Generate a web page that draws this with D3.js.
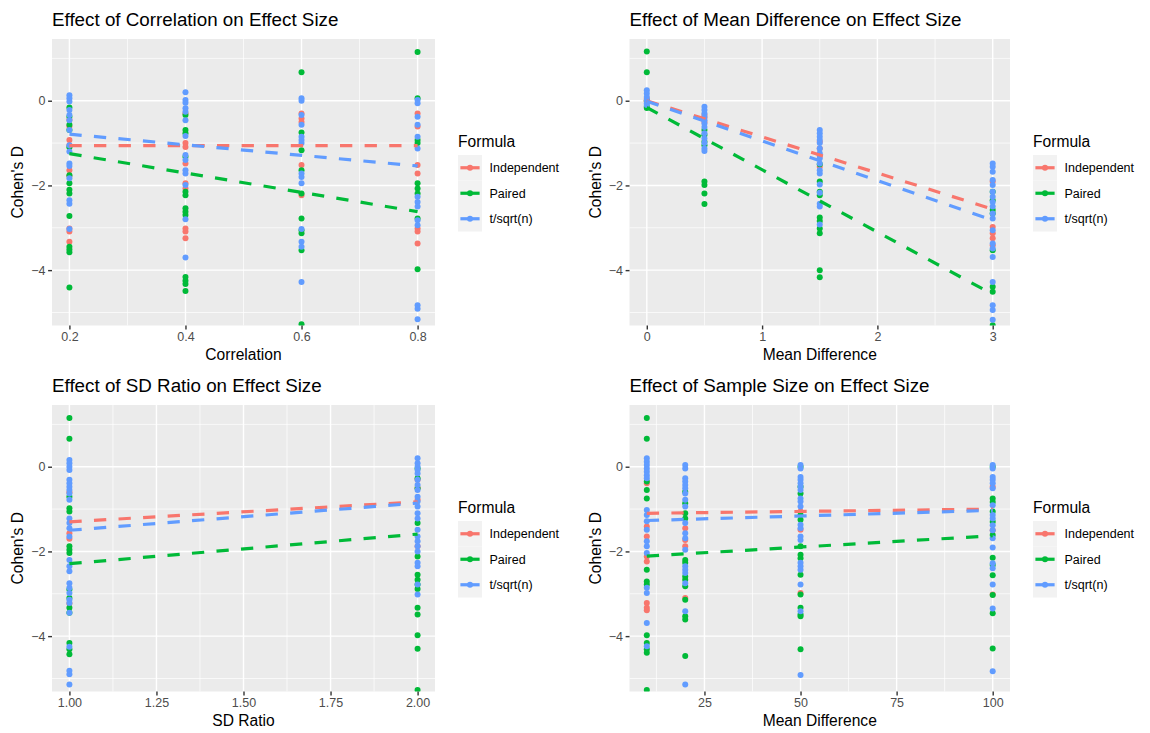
<!DOCTYPE html>
<html><head><meta charset="utf-8">
<script src="https://cdn.jsdelivr.net/npm/d3@7"></script>
<style>
body{margin:0;background:#fff}
text{font-family:"Liberation Sans",Arial,Helvetica,sans-serif}
</style>
</head><body>
<svg id="chart" width="1150" height="733"></svg>
<script>
// ---------- shared ----------
const formulas = ["Independent", "Paired", "t/sqrt(n)"];
const formulaColors = ["#F8766D", "#00BA38", "#619CFF"];
const yLabel = "Cohen's D";
const yMajorTicks = [-4, -2, 0];
const yMinorTicks = [-5, -3, -1, 1];
const yLimits = [-5.3075, 1.4575];

// ---------- panel 1: correlation ----------
const corrX = [0.2, 0.4, 0.6, 0.8];
const corrIndependent = [
  [-0.45, -0.6, -0.93, -1.05, -1.64, -1.78, -3.02, -3.09, -3.33],
  [-0.3, -1.0, -1.09, -1.48, -1.95, -2.07, -3.02, -3.09, -3.25],
  [-0.3, -0.42, -0.5, -1.52, -2.23],
  [-0.3, -0.61, -1.52, -1.72, -3.02, -3.09, -3.37]
];
const corrPaired = [
  [-0.16, -0.38, -0.57, -0.69, -1.1, -1.76, -1.95, -2.1, -2.19, -2.72, -3.45, -3.51, -3.58, -4.41],
  [-0.34, -0.69, -0.77, -1.32, -2.15, -2.23, -2.54, -2.62, -2.7, -4.16, -4.25, -4.33, -4.49],
  [0.67, -0.75, -1.17, -1.64, -2.19, -2.78, -3.06, -3.13, -3.53, -5.28],
  [1.15, 0.06, -0.93, -1.0, -1.95, -2.07, -2.19, -2.78, -3.98]
];
const corrTsqrt = [
  [0.13, 0.06, -0.02, -0.22, -0.34, -0.46, -0.69, -1.05, -1.2, -1.48, -1.54, -1.83, -2.35, -2.43, -3.03],
  [0.2, 0.02, -0.05, -0.18, -0.26, -0.46, -0.83, -1.28, -1.4, -1.64, -1.72, -1.99, -2.8, -3.7],
  [0.06, 0, -0.34, -0.57, -0.85, -0.93, -1.0, -1.72, -1.8, -1.95, -3.03, -3.33, -3.45, -4.28],
  [0.02, -0.06, -0.38, -0.57, -0.85, -1.13, -2.27, -2.39, -2.5, -2.82, -2.94, -4.83, -4.91, -5.16]
];
const corrFit = [[-1.06, -1.06], [-1.25, -2.62], [-0.79, -1.54]]; // y at min x, max x
const corrTicks = [0.2, 0.4, 0.6, 0.8];

// ---------- panel 2: mean difference ----------
const meanX = [0, 0.5, 1.5, 3];
const meanIndependent = [
  [0.05, -0.02, 0.0],
  [-0.34, -0.4, -0.5],
  [-0.97, -1.13, -1.3, -1.56],
  [-1.91, -2.98, -3.13, -3.25, -3.41]
];
const meanPaired = [
  [1.16, 0.67, 0.0, -0.14, -0.17],
  [-0.69, -0.81, -0.97, -1.05, -1.91, -1.99, -2.19, -2.44],
  [-1.5, -1.91, -2.15, -2.23, -2.76, -2.84, -3.02, -3.13, -4.0, -4.17],
  [-2.15, -2.35, -2.58, -2.66, -3.53, -4.39, -4.51, -5.3]
];
const meanTsqrt = [
  [0.25, 0.17, 0.09, 0.02, -0.06, -0.1],
  [-0.14, -0.22, -0.3, -0.38, -0.46, -0.54, -0.62, -0.77, -0.89, -1.0, -1.13, -1.19],
  [-0.69, -0.77, -0.85, -0.93, -1.0, -1.13, -1.24, -1.36, -1.48, -1.64, -1.72, -1.98, -2.17, -2.43, -2.5, -2.92],
  [-1.48, -1.56, -1.68, -1.87, -1.99, -2.15, -2.27, -2.39, -2.5, -2.66, -2.78, -3.06, -3.37, -3.49, -3.69, -4.28, -4.83, -4.94, -5.17]
];
const meanFit = [[0.0, -2.56], [-0.16, -4.57], [-0.01, -2.82]];
const meanTicks = [0, 1, 2, 3];

// ---------- panel 3: SD ratio ----------
const sdX = [1.0, 2.0];
const sdIndependent = [
  [-0.6, -1.57, -1.7, -3.23],
  [-0.31, -0.5, -0.78, -1.88]
];
const sdPaired = [
  [1.15, 0.66, -0.71, -0.98, -1.06, -1.88, -1.96, -2.04, -2.9, -3.1, -3.33, -3.45, -4.16, -4.31, -4.43],
  [-0.04, -0.27, -0.51, -1.33, -2.12, -2.55, -2.67, -2.78, -2.89, -3.33, -3.49, -3.98, -4.3, -5.27]
];
const sdTsqrt = [
  [0.16, 0.08, 0, -0.08, -0.31, -0.39, -0.47, -0.55, -0.63, -0.78, -1.22, -1.33, -1.45, -1.65, -2.2, -2.35, -2.47, -2.75, -2.86, -2.98, -3.14, -3.22, -3.45, -4.25, -4.82, -4.9, -5.14],
  [0.2, 0.08, 0, -0.08, -0.16, -0.31, -0.43, -0.55, -0.71, -0.82, -0.94, -1.1, -1.22, -1.49, -1.65, -1.76, -1.88, -2.0, -2.27, -2.35, -2.78, -3.02]
];
const sdFit = [[-1.30, -0.83], [-2.29, -1.59], [-1.50, -0.86]];
const sdTicks = [1.0, 1.25, 1.5, 1.75, 2.0];

// ---------- panel 4: sample size ----------
const nX = [10, 20, 50, 100];
const nIndependent = [
  [-0.39, -1.41, -1.65, -2.12, -2.24, -3.22, -3.33, -3.39],
  [-1.45, -1.73, -1.88, -3.1],
  [-1.06, -1.49, -2.98],
  [-0.47, -1.5, -3.02]
];
const nPaired = [
  [1.15, 0.66, -0.35, -0.55, -0.75, -2.43, -2.71, -2.78, -3.98, -4.16, -4.31, -4.39, -5.27],
  [-0.59, -0.86, -1.1, -1.22, -2.2, -2.27, -2.59, -2.67, -2.82, -3.14, -3.53, -3.61, -4.47],
  [0.0, -0.47, -0.63, -1.14, -1.25, -1.88, -2.08, -2.16, -2.55, -3.02, -3.33, -3.49, -3.53, -4.31],
  [0.0, -0.75, -0.83, -1.06, -1.3, -1.61, -2.15, -2.32, -2.56, -3.03, -3.46, -4.29]
];
const nTsqrt = [
  [0.2, 0.12, 0.04, -0.04, -0.12, -0.2, -0.27, -1.02, -1.14, -1.29, -1.49, -1.76, -1.88, -2.04, -2.86, -2.98, -3.69, -4.24],
  [0.04, -0.04, -0.27, -0.35, -0.43, -0.51, -0.63, -0.78, -0.94, -1.33, -1.57, -1.69, -1.96, -2.35, -2.43, -2.51, -2.75, -3.41, -5.14],
  [0.04, -0.04, -0.24, -0.31, -0.39, -0.47, -0.55, -0.75, -0.82, -0.94, -1.37, -1.45, -1.65, -1.73, -2.27, -2.35, -2.43, -2.78, -3.41, -4.92],
  [0.04, -0.04, -0.24, -0.31, -0.39, -0.51, -0.91, -1.14, -1.22, -1.38, -1.5, -1.69, -1.91, -2.28, -2.4, -2.78, -3.35, -4.83]
];
const nFit = [[-1.10, -1.00], [-2.11, -1.63], [-1.27, -1.03]];
const nTicks = [25, 50, 75, 100];

// ---------- panel table ----------
const panels = [
  {title: "Effect of Correlation on Effect Size", xLabel: "Correlation", xs: corrX,
   series: [corrIndependent, corrPaired, corrTsqrt], fit: corrFit, ticks: corrTicks,
   fmt: d3.format(".1f"), left: 52, right: 435, top: 39, bottom: 325.5},
  {title: "Effect of Mean Difference on Effect Size", xLabel: "Mean Difference", xs: meanX,
   series: [meanIndependent, meanPaired, meanTsqrt], fit: meanFit, ticks: meanTicks,
   fmt: d3.format("d"), left: 629.5, right: 1010, top: 39, bottom: 325.5},
  {title: "Effect of SD Ratio on Effect Size", xLabel: "SD Ratio", xs: sdX,
   series: [sdIndependent, sdPaired, sdTsqrt], fit: sdFit, ticks: sdTicks,
   fmt: d3.format(".2f"), left: 52, right: 435, top: 405, bottom: 691.5},
  {title: "Effect of Sample Size on Effect Size", xLabel: "Mean Difference", xs: nX,
   series: [nIndependent, nPaired, nTsqrt], fit: nFit, ticks: nTicks,
   fmt: d3.format("d"), left: 629.5, right: 1010, top: 405, bottom: 691.5}
];

const svg = d3.select("#chart");
const minusFmt = d => (d < 0 ? "\u2212" + Math.abs(d) : String(d));

panels.forEach((p, pi) => {
  const xmin = d3.min(p.xs), xmax = d3.max(p.xs);
  const pad = (xmax - xmin) * 0.05;
  const x = d3.scaleLinear().domain([xmin - pad, xmax + pad]).range([p.left, p.right]);
  const y = d3.scaleLinear().domain(yLimits).range([p.bottom, p.top]);
  const g = svg.append("g");

  // background
  g.append("rect").attr("x", p.left).attr("y", p.top)
    .attr("width", p.right - p.left).attr("height", p.bottom - p.top).attr("fill", "#EBEBEB");

  // minor x gridlines (midpoints between major ticks, within range)
  const tks = p.ticks;
  const step = tks[1] - tks[0];
  const minorX = [];
  for (let v = tks[0] - step / 2; v <= tks[tks.length - 1] + step / 2 + 1e-9; v += step) {
    if (v >= x.domain()[0] && v <= x.domain()[1]) minorX.push(v);
  }
  g.selectAll(".mx").data(minorX).join("line")
    .attr("x1", d => x(d)).attr("x2", d => x(d)).attr("y1", p.top).attr("y2", p.bottom)
    .attr("stroke", "#fff").attr("stroke-width", 0.7);
  g.selectAll(".my").data(yMinorTicks).join("line")
    .attr("x1", p.left).attr("x2", p.right).attr("y1", d => y(d)).attr("y2", d => y(d))
    .attr("stroke", "#fff").attr("stroke-width", 0.7);
  g.selectAll(".Mx").data(tks).join("line")
    .attr("x1", d => x(d)).attr("x2", d => x(d)).attr("y1", p.top).attr("y2", p.bottom)
    .attr("stroke", "#fff").attr("stroke-width", 1.4);
  g.selectAll(".My").data(yMajorTicks).join("line")
    .attr("x1", p.left).attr("x2", p.right).attr("y1", d => y(d)).attr("y2", d => y(d))
    .attr("stroke", "#fff").attr("stroke-width", 1.4);

  // clip
  const cid = "clip" + pi;
  svg.append("clipPath").attr("id", cid).append("rect")
    .attr("x", p.left).attr("y", p.top).attr("width", p.right - p.left).attr("height", p.bottom - p.top);
  const plot = g.append("g").attr("clip-path", `url(#${cid})`);

  // points
  p.series.forEach((ser, fi) => {
    const pts = [];
    ser.forEach((vals, xi) => vals.forEach(v => pts.push({x: p.xs[xi], y: v})));
    plot.append("g").selectAll("circle").data(pts).join("circle")
      .attr("cx", d => x(d.x)).attr("cy", d => y(d.y)).attr("r", 3)
      .attr("fill", formulaColors[fi]);
  });
  // fitted dashed lines
  p.fit.forEach((f, fi) => {
    plot.append("line")
      .attr("x1", x(xmin)).attr("y1", y(f[0])).attr("x2", x(xmax)).attr("y2", y(f[1]))
      .attr("stroke", formulaColors[fi]).attr("stroke-width", 3.2)
      .attr("stroke-dasharray", "12.3,12.3");
  });

  // axes
  const xAxis = d3.axisBottom(x).tickValues(tks).tickFormat(p.fmt).tickSize(3.9).tickPadding(2.6);
  const gx = g.append("g").attr("transform", `translate(0,${p.bottom})`).call(xAxis);
  const yAxis = d3.axisLeft(y).tickValues(yMajorTicks).tickFormat(minusFmt).tickSize(3.9).tickPadding(2.6);
  const gy = g.append("g").attr("transform", `translate(${p.left},0)`).call(yAxis);
  [gx, gy].forEach(a => {
    a.select(".domain").remove();
    a.selectAll(".tick line").attr("stroke", "#333333").attr("stroke-width", 1.4);
    a.selectAll(".tick text").attr("fill", "#4D4D4D").style("font-size", "12.5px")
      .style("font-family", "'Liberation Sans', Arial, sans-serif");
  });

  // titles
  g.append("text").attr("x", p.left).attr("y", p.top - 13).text(p.title)
    .attr("fill", "#000").style("font-size", "18.8px");
  g.append("text").attr("x", (p.left + p.right) / 2).attr("y", p.bottom + 34)
    .attr("text-anchor", "middle").text(p.xLabel).style("font-size", "15.6px");
  g.append("text")
    .attr("transform", `translate(${p.left - 29},${(p.top + p.bottom) / 2}) rotate(-90)`)
    .attr("text-anchor", "middle").text(yLabel).style("font-size", "15.6px");

  // legend
  const lx = p.right + 23;
  const lg = g.append("g");
  lg.append("text").attr("x", lx).attr("y", p.top + 107.5).text("Formula").style("font-size", "15.6px");
  const keyH = 25.5, keyW = 24, ky0 = p.top + 116;
  formulas.forEach((name, i) => {
    const ky = ky0 + i * keyH;
    lg.append("rect").attr("x", lx).attr("y", ky).attr("width", keyW).attr("height", keyH).attr("fill", "#F2F2F2");
    lg.append("line").attr("x1", lx + keyW * 0.1).attr("x2", lx + keyW * 0.9)
      .attr("y1", ky + keyH / 2).attr("y2", ky + keyH / 2)
      .attr("stroke", formulaColors[i]).attr("stroke-width", 3.2);
    lg.append("circle").attr("cx", lx + keyW / 2).attr("cy", ky + keyH / 2).attr("r", 3)
      .attr("fill", formulaColors[i]);
    lg.append("text").attr("x", lx + keyW + 7.5).attr("y", ky + keyH / 2 + 4.4)
      .text(name).style("font-size", "12.5px").attr("fill", "#000");
  });
});
</script>
</body></html>
